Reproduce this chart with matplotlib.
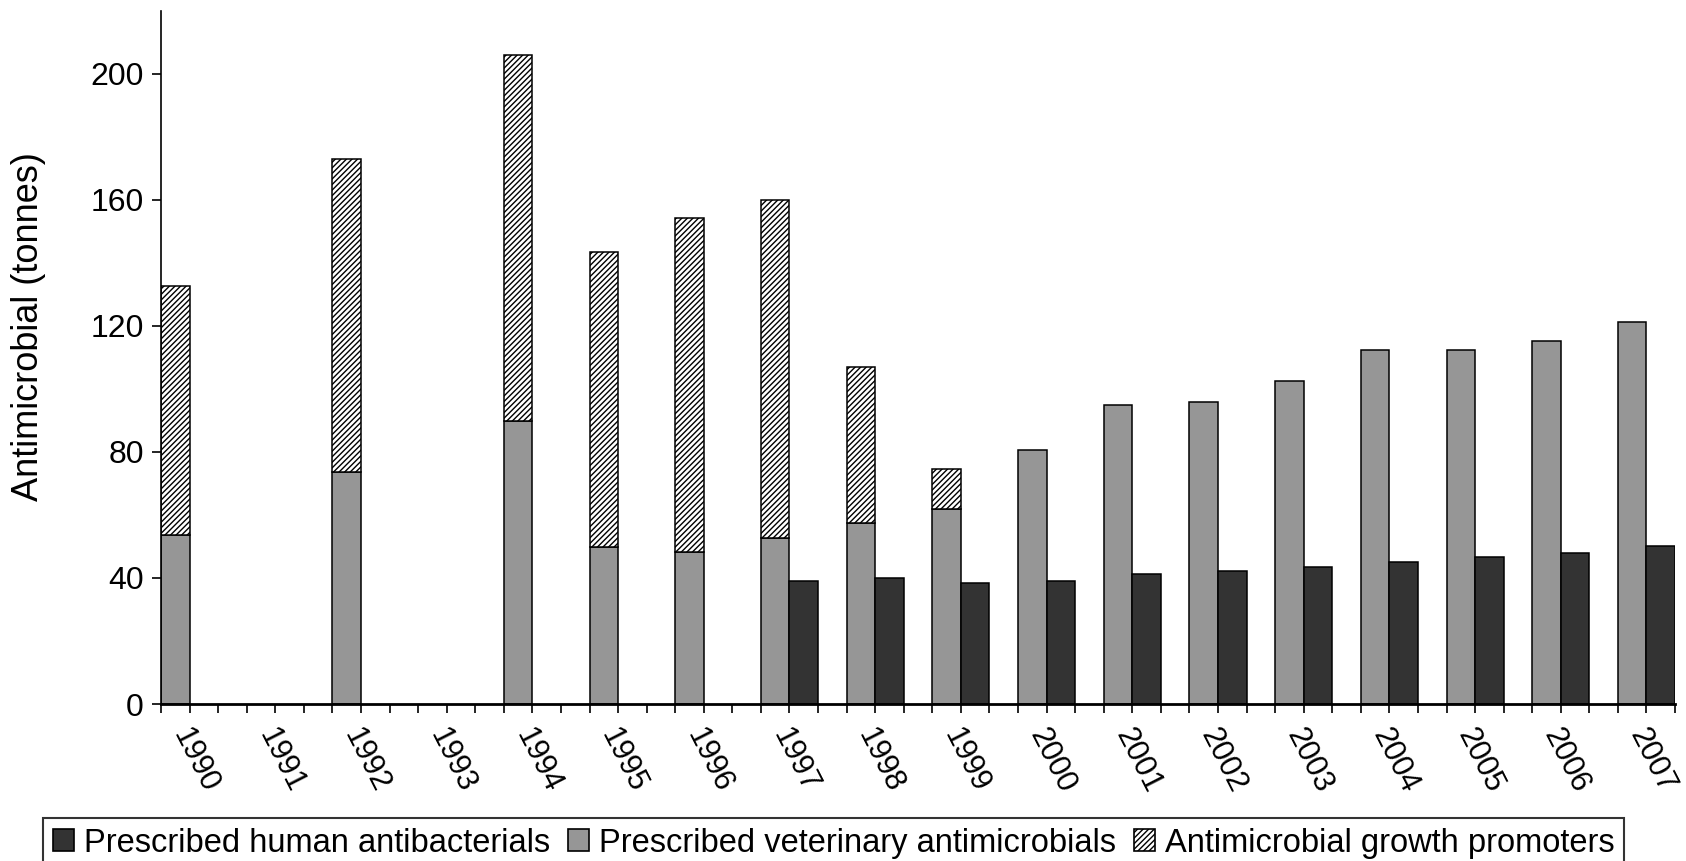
import numpy as np
import matplotlib
matplotlib.use('Agg')
import matplotlib.pyplot as plt
from matplotlib.patches import Patch

plt.rcParams['font.family'] = ['Liberation Sans', 'DejaVu Sans']
plt.rcParams['hatch.linewidth'] = 1.0

years = ['1990', '1991', '1992', '1993', '1994', '1995', '1996', '1997', '1998',
         '1999', '2000', '2001', '2002', '2003', '2004', '2005', '2006', '2007']
# tonnes; np.nan where no data
veterinary = [53.8, np.nan, 73.6, np.nan, 89.9, 49.7, 48.3, 52.8, 57.5,
              62.0, 80.6, 95.0, 96.0, 102.6, 112.4, 112.4, 115.2, 121.3]
growth_promoters = [79.0, np.nan, 99.5, np.nan, 116.1, 93.9, 105.8, 107.3, 49.4,
                    12.6, np.nan, np.nan, np.nan, np.nan, np.nan, np.nan, np.nan, np.nan]
human = [np.nan, np.nan, np.nan, np.nan, np.nan, np.nan, np.nan, 39.0, 40.1,
         38.4, 39.0, 41.2, 42.3, 43.6, 45.1, 46.8, 47.9, 50.0]

vet = np.array(veterinary)
agp = np.array(growth_promoters)
hum = np.array(human)

# each year uses 3 slots: veterinary stack, human, gap (last gap dropped)
k = np.arange(len(years))
x_vet = 3 * k + 0.5
x_hum = 3 * k + 1.5
n_slots = 3 * len(years) - 1

fig = plt.figure(figsize=(16.86, 8.61), dpi=100)
ax = fig.add_axes([0.0955, 0.1823, 0.898, 0.8052])

ax.bar(x_vet, vet, width=1.0, color='#969696', edgecolor='black', linewidth=1.1)
ax.bar(x_vet, agp, width=1.0, bottom=vet, color='white', edgecolor='black',
       linewidth=1.1, hatch='//////')
ax.bar(x_hum, hum, width=1.0, color='#333333', edgecolor='black', linewidth=1.1)

ax.set_xlim(0, n_slots)
ax.set_ylim(0, 220)
ax.set_yticks([0, 40, 80, 120, 160, 200])
ax.tick_params(axis='y', direction='out', length=6.5, width=1.2, labelsize=23, pad=6)

ax.set_xticks(3 * k + 0.65)
ax.set_xticklabels(years)
ax.set_xticks(np.arange(n_slots + 1), minor=True)
ax.tick_params(axis='x', which='major', length=0, labelsize=22, pad=19)
ax.tick_params(axis='x', which='minor', direction='out', length=6.5, width=1.2)
plt.setp(ax.get_xticklabels(), rotation=-63, ha='left', va='center',
         rotation_mode='anchor')

for s in ['top', 'right']:
    ax.spines[s].set_visible(False)
ax.spines['left'].set_linewidth(1.2)
ax.spines['bottom'].set_linewidth(2)

ax.set_ylabel('Antimicrobial (tonnes)', fontsize=26)
ax.yaxis.set_label_coords(-0.076, 0.544)

handles = [Patch(facecolor='#333333', edgecolor='black', linewidth=1.2),
           Patch(facecolor='#969696', edgecolor='black', linewidth=1.2),
           Patch(facecolor='white', edgecolor='black', linewidth=1.2, hatch='//////')]
labels = ['Prescribed human antibacterials', 'Prescribed veterinary antimicrobials',
          'Antimicrobial growth promoters']
leg = fig.legend(handles, labels, loc='upper left', bbox_to_anchor=(43 / 1686, 1 - 818 / 861),
                 ncol=3, fontsize=23.5, frameon=True, fancybox=False, edgecolor='black',
                 handlelength=0.65, handleheight=0.65, handletextpad=0.3,
                 columnspacing=0.55, borderpad=0.3, borderaxespad=0)
leg.get_frame().set_linewidth(1.5)

plt.savefig('out.png', dpi=100)
